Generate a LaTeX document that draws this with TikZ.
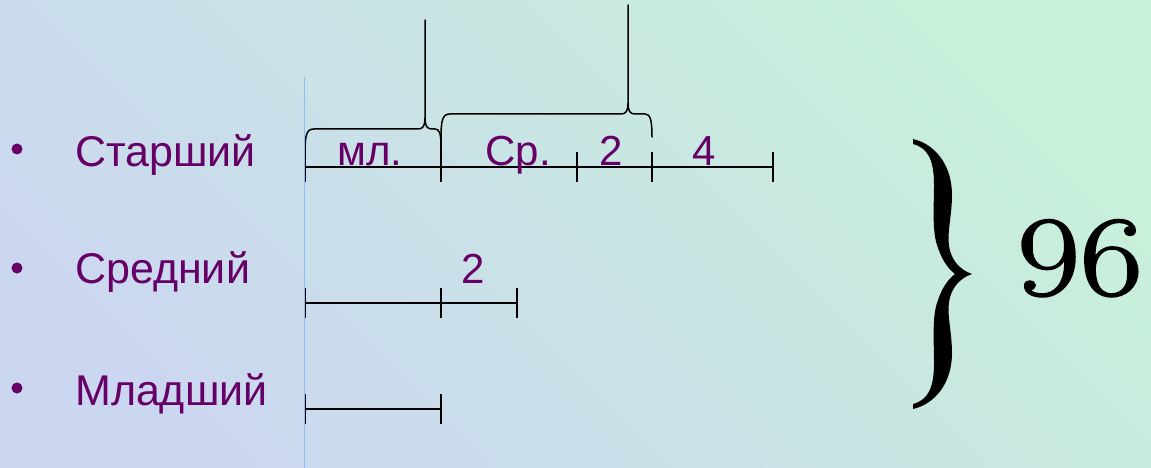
\documentclass[tikz,border=0pt]{standalone}
\usepackage{fontspec}
\newfontfamily\arialf{Liberation Sans}
\newfontfamily\digf[FakeBold=1.6]{Latin Modern Roman}
\definecolor{lblc}{HTML}{660066}
\definecolor{bgA}{RGB}{200,240,218}
\definecolor{bgB}{RGB}{203,215,240}
\definecolor{guide}{RGB}{140,190,245}
\tikzset{
  lbl/.style={font=\arialf\fontsize{43}{43}\selectfont, text=lblc, inner sep=0pt, anchor=base west},
  num/.style={font=\arialf\fontsize{42}{42}\selectfont, text=lblc, inner sep=0pt, anchor=base},
  seg/.style={line width=2pt, black},
  brc/.style={line width=1.5pt, black, line join=round, line cap=round},
  bul/.style={circle, fill=lblc, inner sep=0pt, minimum size=11pt}
}
\begin{document}
\begin{tikzpicture}[x=1pt,y=-1pt]
\useasboundingbox (0,0) rectangle (1151,468);
\shade[top color=bgA, bottom color=bgB, shading angle=-45] (0,0) rectangle (1151,468);

% bullets and labels
\node[bul] (b1) at (17,149) {};
\node[bul] (b2) at (17,268) {};
\node[bul] (b3) at (17,388) {};
\node[lbl] (l1) at (75,166) {Старший};
\node[lbl] (l2) at (75,283) {Средний};
\node[lbl] (l3) at (75,405) {Младший};

% top row
\coordinate (a0) at (305,167);
\coordinate (a1) at (441,167);
\coordinate (a2) at (577,167);
\coordinate (a3) at (652,167);
\coordinate (a4) at (773,167);
\draw[seg] (a0) -- (a4);
\foreach \p in {a0,a1,a2,a3,a4} {\draw[seg] ([yshift=15pt]\p) -- ([yshift=-15pt]\p);}
\draw[seg] (a1) -- ++(0,-32);

% middle row
\coordinate (m0) at (305,303);
\coordinate (m1) at (441,303);
\coordinate (m2) at (517,303);
\draw[seg] (m0) -- (m2);
\foreach \p in {m0,m1,m2} {\draw[seg] ([yshift=15pt]\p) -- ([yshift=-15pt]\p);}

% bottom row
\coordinate (n0) at (305,409);
\coordinate (n1) at (441,409);
\draw[seg] (n0) -- (n1);
\foreach \p in {n0,n1} {\draw[seg] ([yshift=15pt]\p) -- ([yshift=-15pt]\p);}

% segment labels
\node[num] (t1) at (370,165) {мл.};
\node[num] (t2) at (518,165) {Ср.};
\node[num] (t3) at (611,165) {2};
\node[num] (t4) at (704,165) {4};
\node[num] (t5) at (473,283) {2};

% small braces
\draw[brc] (305,152) .. controls (305,134) and (307,129) .. (314,129) -- (418,129)
  .. controls (423,129) and (425,126) .. (425,118) -- (425,20) -- (425,118)
  .. controls (425,126) and (427,129) .. (432,129) -- (435,129)
  .. controls (439,129) and (441,133) .. (441,145);
\draw[brc] (441,137) .. controls (441,119) and (443,114) .. (450,114) -- (621,114)
  .. controls (626,114) and (628,111) .. (628,103) -- (628,5) -- (628,103)
  .. controls (628,111) and (630,114) .. (635,114) -- (645,114)
  .. controls (650,114) and (652,119) .. (652,137);

% guide line
\coordinate (g0) at (304.5,77);
\coordinate (g1) at (304.5,468);
\draw[guide, line width=1.8pt] (g0) -- (g1);

% big brace
\fill[black] (913,139) .. controls (935,144) and (952,165) .. (952,195)
  .. controls (952,215) and (947,232) .. (949,246)
  .. controls (951,260) and (960,270) .. (972,274)
  .. controls (960,278) and (951,288) .. (949,302)
  .. controls (947,316) and (952,333) .. (952,353)
  .. controls (952,383) and (935,404) .. (913,409)
  -- (913,404)
  .. controls (928,400) and (934,388) .. (934,363)
  .. controls (934,343) and (932,318) .. (937,303)
  .. controls (941,290) and (947,280) .. (955,274)
  .. controls (947,268) and (941,258) .. (937,245)
  .. controls (932,230) and (934,205) .. (934,185)
  .. controls (934,160) and (928,148) .. (913,144) -- cycle;
\node[inner sep=0pt, anchor=base west, font=\digf\fontsize{114}{114}\selectfont] (tot) at (1017,295) {\scalebox{1.2}[1]{96}};
\end{tikzpicture}
\end{document}
